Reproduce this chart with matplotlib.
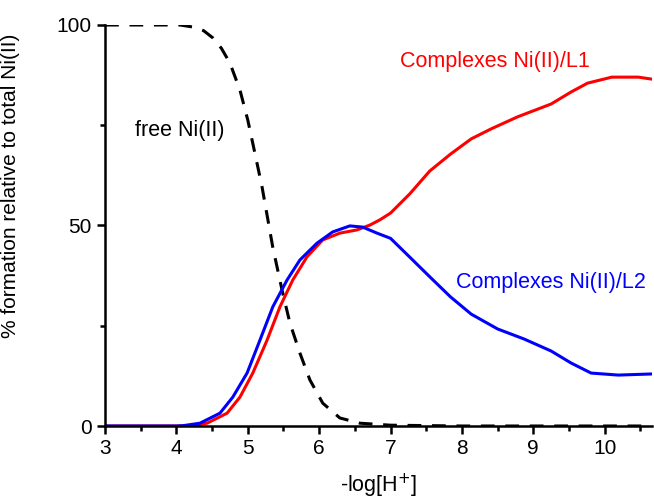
import matplotlib.pyplot as plt
from matplotlib.ticker import MultipleLocator

plt.rcParams['font.family'] = ['Liberation Sans', 'DejaVu Sans']

# free Ni(II)
x_free = [3.0, 3.5, 4.05, 4.23, 4.38, 4.51, 4.63, 4.75, 4.89, 5.0, 5.1, 5.2,
          5.27, 5.35, 5.48, 5.59, 5.73, 5.87, 6.05, 6.29, 6.57, 7.0, 8.0,
          9.0, 10.0, 10.7]
y_free = [100, 100, 100, 99.5, 98.6, 96.8, 94.2, 90.5, 83.8, 76.3, 68, 59.6,
          52.6, 44.6, 33.9, 25.7, 18.2, 11.5, 5.7, 2.0, 0.7, 0.2, 0,
          0, 0, 0]

# Complexes Ni(II)/L1
x_l1 = [3.0, 4.0, 4.2, 4.43, 4.71, 4.89, 5.07, 5.27, 5.45, 5.63, 5.83, 6.05,
        6.29, 6.53, 6.71, 6.85, 7.0, 7.27, 7.55, 7.84, 8.13, 8.41, 8.78,
        9.25, 9.53, 9.76, 10.1, 10.47, 10.7]
y_l1 = [0, 0, 0.1, 0.7, 3.2, 7.2, 13.2, 21.4, 29.7, 36.4, 42.2, 46.4,
        48.1, 48.9, 50.1, 51.4, 53.1, 57.9, 63.6, 67.8, 71.6, 74.1, 77.1,
        80.3, 83.3, 85.5, 87, 87, 86.4]

# Complexes Ni(II)/L2
x_l2 = [3.0, 4.0, 4.1, 4.33, 4.61, 4.79, 4.99, 5.17, 5.35, 5.55, 5.73, 5.97,
        6.19, 6.43, 6.61, 6.81, 7.0, 7.27, 7.55, 7.84, 8.13, 8.5, 8.87,
        9.25, 9.53, 9.81, 10.19, 10.7]
y_l2 = [0, 0, 0.1, 0.7, 3.2, 7.2, 13.2, 21.4, 29.7, 36.4, 41.4, 45.6,
        48.4, 49.9, 49.6, 48.1, 46.8, 42.1, 37.2, 32.2, 27.9, 24.2, 21.7,
        18.7, 15.7, 13.2, 12.7, 13.0]

fig = plt.figure(figsize=(6.54, 5.0), dpi=100)
ax = fig.add_axes([0.1606, 0.148, 0.836, 0.802])

ax.plot(x_free, y_free, color='black', lw=2.2, dashes=(4.5, 3.5))
ax.plot(x_l1, y_l1, color='red', lw=2.2, solid_joinstyle='round')
ax.plot(x_l2, y_l2, color='blue', lw=2.2, solid_joinstyle='round')

ax.text(3.42, 73.8, 'free Ni(II)', color='black', fontsize=15.5, va='center')
ax.text(7.13, 90.8, 'Complexes Ni(II)/L1', color='red', fontsize=15.5, va='center')
ax.text(7.92, 35.7, 'Complexes Ni(II)/L2', color='blue', fontsize=15.5, va='center')

ax.set_xlim(3, 10.66)
ax.set_ylim(0, 100)
ax.xaxis.set_major_locator(MultipleLocator(1))
ax.xaxis.set_minor_locator(MultipleLocator(0.5))
ax.yaxis.set_major_locator(MultipleLocator(50))
ax.yaxis.set_minor_locator(MultipleLocator(25))
ax.tick_params(which='major', direction='out', length=6, width=1.8, labelsize=15)
ax.tick_params(which='minor', direction='out', length=3.5, width=1.8)
for s in ['top', 'right']:
    ax.spines[s].set_visible(False)
for s in ['left', 'bottom']:
    ax.spines[s].set_linewidth(1.8)

ax.set_xlabel('-log[H$^{+}$]', fontsize=15.5, labelpad=10)
ax.set_ylabel('% formation relative to total Ni(II)', fontsize=15)
ax.yaxis.set_label_coords(-0.155, 0.598)

fig.savefig('out.png', dpi=100)
